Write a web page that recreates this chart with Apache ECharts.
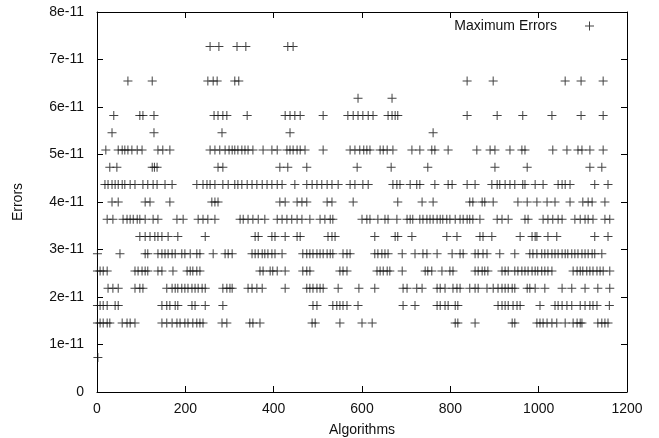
<!DOCTYPE html>
<html>
<head>
<meta charset="utf-8">
<script src="https://cdn.jsdelivr.net/npm/echarts@6/dist/echarts.min.js"></script>
<style>
  html, body { margin: 0; padding: 0; background: #fff; }
  #chart { width: 659px; height: 438px; }
</style>
</head>
<body>
<div id="chart"></div>
<script>
// error levels (y values) found in the plot
const levels = [7.276e-12, 1.455e-11, 1.819e-11, 2.183e-11, 2.547e-11, 2.910e-11, 3.274e-11,
  3.638e-11, 4.002e-11, 4.366e-11, 4.729e-11, 5.093e-11, 5.457e-11, 5.821e-11, 6.185e-11,
  6.548e-11, 7.276e-11];

// algorithm indices sitting on each level
const x073 = [2];
const x146 = [1,7,14,23,29,57,68,75,86,147,158,170,181,188,199,206,217,226,233,240,283,294,346,353,369,487,494,550,600,623,811,817,856,940,946,996,1003,1010,1019,1030,1041,1060,1078,1087,1094,1098,1134,1143,1150,1157];
const x182 = [1,7,14,23,41,48,147,158,165,177,183,215,222,245,285,489,498,534,543,550,557,566,591,693,720,770,777,788,795,811,817,908,917,924,931,942,951,958,1003,1037,1044,1053,1064,1075,1094,1105,1116,1123,1132,1160];
const x218 = [25,36,48,86,97,104,158,170,177,183,192,199,206,215,222,229,238,245,285,294,301,306,342,351,362,374,426,475,482,489,498,505,512,546,593,629,693,702,724,736,770,777,788,806,815,822,844,856,863,883,897,908,917,924,931,940,946,974,980,992,1014,1053,1075,1105,1134,1161];
const x255 = [1,7,14,23,86,93,102,109,115,138,147,172,204,211,217,226,233,369,376,392,398,408,426,466,475,482,550,557,566,634,641,648,657,663,691,743,749,758,781,799,806,856,863,872,878,885,917,924,931,946,953,962,969,976,985,992,998,1007,1014,1021,1030,1078,1087,1094,1100,1109,1116,1123,1132,1139,1146,1161];
const x291 = [1,52,109,115,138,147,154,161,170,177,192,199,211,226,233,263,290,297,306,351,358,365,374,380,387,396,403,419,466,475,482,489,498,505,512,521,528,534,557,566,573,629,636,645,652,659,691,720,738,747,770,804,822,829,856,863,874,883,912,946,980,987,996,1007,1014,1021,1030,1037,1044,1053,1060,1066,1075,1082,1089,1098,1105,1112,1121,1127,1143];
const x327 = [97,109,120,131,138,147,161,183,245,358,365,396,403,426,453,460,523,532,539,629,675,681,713,792,815,867,874,894,958,985,992,996,1021,1041,1127,1157];
const x364 = [23,36,59,68,75,82,91,97,109,127,138,181,195,229,240,251,267,324,331,342,353,365,380,408,419,430,441,453,464,482,505,516,528,534,600,611,618,636,652,659,679,702,709,715,731,738,747,754,761,770,777,783,792,799,811,822,829,838,844,851,867,906,917,931,969,976,1010,1021,1032,1044,1053,1082,1094,1105,1112,1123,1150,1161];
const x400 = [34,48,109,120,165,260,267,274,414,426,453,464,475,521,532,580,681,736,761,844,851,872,878,897,953,974,996,1019,1037,1071,1100,1112,1121,1150];
const x437 = [18,25,34,41,48,57,63,75,86,104,115,127,136,154,170,226,240,249,256,267,285,297,312,319,328,340,351,362,374,385,396,408,419,448,475,487,498,509,521,532,546,573,584,602,614,670,679,686,709,724,731,765,795,804,838,856,894,906,912,924,935,946,964,969,992,1010,1044,1053,1060,1071,1127,1157];
const x473 = [29,45,125,130,136,274,285,414,432,475,589,666,749,901,974,1116,1143];
const x509 = [20,48,57,63,70,79,91,102,138,149,165,256,267,278,290,299,306,312,319,328,335,342,353,376,396,408,430,437,444,453,460,471,512,573,584,595,604,611,618,641,648,657,670,713,731,758,765,795,860,890,901,935,962,969,1032,1064,1089,1098,1116,1146];
const x546 = [34,129,283,437,761];
const x582 = [38,97,104,129,265,274,285,294,340,426,437,448,460,512,568,580,591,602,614,625,659,668,675,681,838,906,964,1030,1096,1146];
const x618 = [591,668];
const x655 = [70,125,251,263,272,312,321,838,897,1060,1096,1146];
const x728 = [256,276,317,337,432,444];

const rows = [x073, x146, x182, x218, x255, x291, x327, x364, x400, x437, x473, x509, x546, x582, x618, x655, x728];

const xTicks = [0, 200, 400, 600, 800, 1000, 1200];

const points = [];
rows.forEach((xs, i) => {
  xs.forEach(x => points.push([x, levels[i]]));
});

const plus = 'path://M4,0H5V4H9V5H5V9H4V5H0V4H4Z';
const font = 'Liberation Sans, Arial, sans-serif';
const lineStyle = { color: '#000', width: 1 };
const tick = { show: true, inside: true, length: 6, lineStyle: lineStyle };

var myChart = echarts.init(document.getElementById('chart'));
var option = {
  animation: false,
  backgroundColor: '#fff',
  textStyle: { fontFamily: font },
  grid: { left: 97, right: 32, top: 12, bottom: 46, outerBoundsMode: 'none', containLabel: false },
  legend: {
    data: ['Maximum Errors'],
    right: 60,
    top: 14,
    align: 'right',
    icon: plus,
    itemWidth: 9,
    itemHeight: 9,
    textStyle: { fontFamily: font, fontSize: 14, color: '#111', padding: [0, 23, 0, 0] }
  },
  xAxis: [
    {
      type: 'value', min: 0, max: 1200, interval: 200, position: 'bottom',
      name: 'Algorithms', nameLocation: 'middle', nameGap: 31,
      nameTextStyle: { fontFamily: font, fontSize: 14, color: '#111' },
      axisLine: { show: true, onZero: false, lineStyle: lineStyle },
      axisTick: tick,
      axisLabel: { fontFamily: font, fontSize: 14, color: '#111', margin: 10,
        formatter: v => xTicks.indexOf(v) >= 0 ? String(v) : '' },
      splitLine: { show: false }
    },
    {
      type: 'value', min: 0, max: 1200, interval: 200, position: 'top',
      axisLine: { show: true, onZero: false, lineStyle: lineStyle },
      axisTick: tick,
      axisLabel: { show: false },
      splitLine: { show: false }
    }
  ],
  yAxis: [
    {
      type: 'value', min: 0, max: 8e-11, interval: 1e-11, position: 'left',
      name: 'Errors', nameLocation: 'middle', nameGap: 72,
      nameTextStyle: { fontFamily: font, fontSize: 14, color: '#111' },
      axisLine: { show: true, onZero: false, lineStyle: lineStyle },
      axisTick: tick,
      axisLabel: { fontFamily: font, fontSize: 14, color: '#111', margin: 13,
        formatter: v => {
          const n = Math.round(v * 1e11);
          return n === 0 ? '0' : n + 'e-11';
        } },
      splitLine: { show: false }
    },
    {
      type: 'value', min: 0, max: 8e-11, interval: 1e-11, position: 'right',
      axisLine: { show: true, onZero: false, lineStyle: lineStyle },
      axisTick: tick,
      axisLabel: { show: false },
      splitLine: { show: false }
    }
  ],
  series: [
    {
      name: 'Maximum Errors',
      type: 'scatter',
      xAxisIndex: 0,
      yAxisIndex: 0,
      symbol: plus,
      symbolSize: 9,
      itemStyle: { color: '#111' },
      data: points
    },
    {
      name: 'frame',
      type: 'scatter',
      xAxisIndex: 1,
      yAxisIndex: 1,
      silent: true,
      data: []
    }
  ]
};
myChart.setOption(option);
</script>
</body>
</html>
